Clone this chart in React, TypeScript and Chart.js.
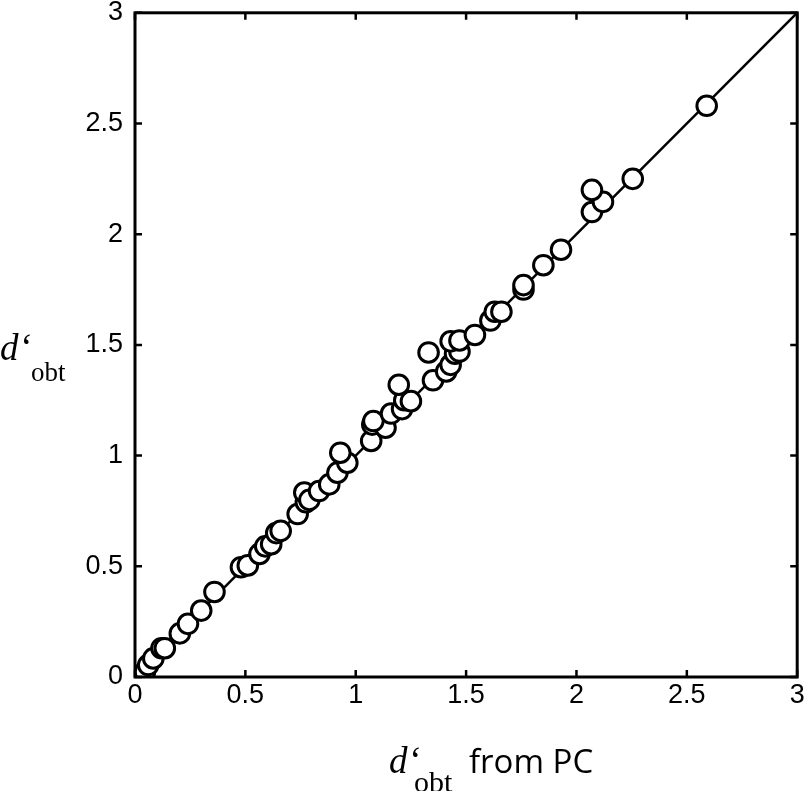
import React, { useEffect, useRef } from "react";
import { Chart, registerables } from "chart.js";

Chart.register(...registerables);

const xValues: number[] = [
  0.02, 0.045, 0.06, 0.083, 0.12, 0.135, 0.203, 0.24, 0.3, 0.36, 0.48, 0.511, 0.564, 0.59, 0.617,
  0.64, 0.66, 0.737, 0.774, 0.767, 0.79, 0.834, 0.88, 0.917, 0.962, 0.93, 1.07, 1.075, 1.135,
  1.08, 1.16, 1.21, 1.22, 1.25, 1.195, 1.35, 1.41, 1.43, 1.45, 1.47, 1.33, 1.43, 1.47, 1.54,
  1.61, 1.63, 1.66, 1.76, 1.76, 1.85, 1.93, 2.07, 2.12, 2.07, 2.255, 2.59,
];
const yValues: number[] = [
  0.0, 0.024, 0.054, 0.084, 0.13, 0.13, 0.197, 0.24, 0.3, 0.384, 0.496, 0.504, 0.556, 0.59, 0.6,
  0.65, 0.66, 0.736, 0.789, 0.833, 0.8, 0.84, 0.87, 0.923, 0.968, 1.013, 1.066, 1.14, 1.126,
  1.156, 1.19, 1.21, 1.25, 1.246, 1.32, 1.34, 1.38, 1.41, 1.46, 1.47, 1.466, 1.516, 1.52, 1.545,
  1.61, 1.65, 1.65, 1.75, 1.77, 1.86, 1.93, 2.1, 2.146, 2.2, 2.25, 2.58,
];
const identityLine: number[] = [0, 3];
const tickValues: number[] = [0, 0.5, 1, 1.5, 2, 2.5, 3];
const tickLabels: string[] = ["0", "0.5", "1", "1.5", "2", "2.5", "3"];
const axisSymbol = "d‘";
const axisSub = "obt";
const xTitleRest = "from PC";

export default function App() {
  const canvasRef = useRef<HTMLCanvasElement | null>(null);

  useEffect(() => {
    document.body.style.margin = "0";
    const canvas = canvasRef.current;
    if (!canvas) return;

    const framePlugin = {
      id: "frameAndTitles",
      afterDraw(chart: any) {
        const ctx = chart.ctx as CanvasRenderingContext2D;
        const { left, right, top, bottom } = chart.chartArea;
        const xs = chart.scales.x;
        const ys = chart.scales.y;
        ctx.save();
        ctx.strokeStyle = "#000";
        ctx.lineWidth = 3;
        ctx.strokeRect(left, top, right - left, bottom - top);
        ctx.lineWidth = 2.5;
        const tl = 7;
        ctx.beginPath();
        for (const v of tickValues) {
          const px = xs.getPixelForValue(v);
          ctx.moveTo(px, bottom);
          ctx.lineTo(px, bottom - tl);
          ctx.moveTo(px, top);
          ctx.lineTo(px, top + tl);
          const py = ys.getPixelForValue(v);
          ctx.moveTo(left, py);
          ctx.lineTo(left + tl, py);
          ctx.moveTo(right, py);
          ctx.lineTo(right - tl, py);
        }
        ctx.stroke();

        ctx.fillStyle = "#000";
        ctx.textAlign = "left";
        ctx.textBaseline = "alphabetic";
        // Y title
        ctx.font = "italic 37px 'Liberation Serif'";
        ctx.fillText(axisSymbol, 0, 360);
        ctx.font = "27px 'Liberation Serif'";
        ctx.fillText(axisSub, 31, 381);
        // X title
        ctx.font = "italic 37px 'Liberation Serif'";
        ctx.fillText(axisSymbol, 389, 773);
        ctx.font = "30px 'Liberation Serif'";
        ctx.fillText(axisSub, 414, 792);
        ctx.font = "33px 'Open Sans'";
        ctx.fillText(xTitleRest, 469, 773);
        ctx.restore();
      },
    };

    const tickFont = { family: "'Liberation Sans', Arial, sans-serif", size: 27 };

    const chart = new Chart(canvas, {
      type: "scatter",
      data: {
        datasets: [
          {
            type: "line",
            data: identityLine.map((v) => ({ x: v, y: v })),
            borderColor: "#000",
            borderWidth: 2.5,
            pointRadius: 0,
            fill: false,
            order: 2,
          } as any,
          {
            data: xValues.map((x, i) => ({ x, y: yValues[i] })),
            backgroundColor: "#fff",
            borderColor: "#000",
            borderWidth: 3,
            pointRadius: 9.8,
            order: 1,
          },
        ],
      },
      options: {
        animation: false,
        responsive: false,
        devicePixelRatio: 1,
        layout: { padding: { top: 10, right: 10, left: 0, bottom: 0 } },
        plugins: { legend: { display: false }, tooltip: { enabled: false } },
        scales: {
          x: {
            type: "linear",
            min: 0,
            max: 3,
            afterBuildTicks: (scale: any) => {
              scale.ticks = tickValues.map((v) => ({ value: v }));
            },
            ticks: {
              font: tickFont,
              color: "#000",
              padding: 2,
              maxRotation: 0,
              callback: (v: any) => tickLabels[tickValues.indexOf(Number(v))] ?? "",
            },
            grid: { display: false, drawTicks: false },
            border: { display: false },
            afterFit: (scale: any) => {
              scale.height = 114;
              scale.paddingLeft = 0;
              scale.paddingRight = 0;
            },
          },
          y: {
            type: "linear",
            min: 0,
            max: 3,
            afterBuildTicks: (scale: any) => {
              scale.ticks = tickValues.map((v) => ({ value: v }));
            },
            ticks: {
              font: tickFont,
              color: "#000",
              padding: 12,
              callback: (v: any) => tickLabels[tickValues.indexOf(Number(v))] ?? "",
            },
            grid: { display: false, drawTicks: false },
            border: { display: false },
            afterFit: (scale: any) => {
              scale.width = 135;
              scale.paddingTop = 0;
              scale.paddingBottom = 0;
            },
          },
        },
      },
      plugins: [framePlugin],
    });

    return () => {
      chart.destroy();
    };
  }, []);

  return (
    <div style={{ position: "absolute", left: 0, top: 0, width: 810, height: 791, background: "#fff" }}>
      <canvas ref={canvasRef} width={810} height={791} style={{ display: "block" }} />
    </div>
  );
}
